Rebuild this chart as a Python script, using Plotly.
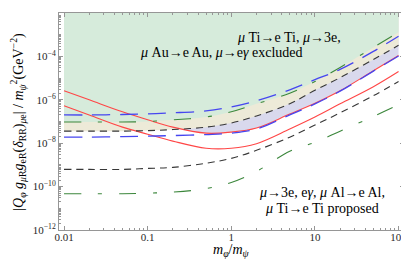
import plotly.graph_objects as go

# mass ratio m_phi / m_psi
ratio = [0.01, 0.02, 0.05, 0.1, 0.2, 0.5, 1, 2, 5, 10, 20, 50, 100]

# current bounds (upper set)
red_current = [2.6e-6, 1.0e-6, 2.8e-7, 1.2e-7, 5.5e-8, 2.9e-8, 3.25e-8, 5.0e-8, 2.2e-7, 6.9e-7, 2.6e-6, 2.2e-5, 1.1e-4]
black_current = [3.6e-8, 3.6e-8, 3.6e-8, 3.8e-8, 4.25e-8, 5.5e-8, 8.5e-8, 1.8e-7, 6.5e-7, 2.75e-6, 1.05e-5, 7.2e-5, 3.25e-4]
green_current = [9.5e-8, 9.5e-8, 9.5e-8, 1.0e-7, 1.2e-7, 1.6e-7, 2.8e-7, 6.5e-7, 2.0e-6, 6.9e-6, 3.1e-5, 2.6e-4, 1.3e-3]
blue_current = [2.0e-7, 2.0e-7, 2.1e-7, 2.25e-7, 2.5e-7, 3.1e-7, 4.7e-7, 9.0e-7, 2.9e-6, 8.5e-6, 2.5e-5, 1.7e-4, 8.5e-4]

# proposed bounds (lower set)
red_proposed = [5.3e-7, 2.0e-7, 5.5e-8, 2.6e-8, 1.25e-8, 5.85e-9, 5.85e-9, 9.5e-9, 4.5e-8, 1.6e-7, 6.5e-7, 4.0e-6, 2.0e-5]
black_proposed = [6.2e-10, 6.2e-10, 6.2e-10, 6.9e-10, 7.65e-10, 1.2e-9, 2.0e-9, 4.7e-9, 1.9e-8, 6.9e-8, 2.5e-7, 1.55e-6, 6.9e-6]
green_proposed = [4.7e-11, 4.7e-11, 4.7e-11, 5.0e-11, 5.55e-11, 8.1e-11, 1.55e-10, 5.0e-10, 4.25e-9, 1.1e-8, 3.6e-8, 1.7e-7, 5.85e-7]
blue_proposed = [1.9e-8, 1.9e-8, 2.0e-8, 2.1e-8, 2.25e-8, 2.5e-8, 2.9e-8, 4.5e-8, 2.0e-7, 6.5e-7, 2.5e-6, 2.1e-5, 1.05e-4]

Y_TOP = 1e-2
x_ticks = [0.01, 0.1, 1, 10, 100]
x_ticktext = ["0.01", "0.1", "1", "10", "100"]
y_ticks = [1e-2, 1e-4, 1e-6, 1e-8, 1e-10, 1e-12]
y_ticktext = ["0.01", "10<sup>\u22124</sup>", "10<sup>\u22126</sup>", "10<sup>\u22128</sup>",
              "10<sup>\u221210</sup>", "10<sup>\u221212</sup>"]

SERIF = "Liberation Serif, Times New Roman, serif"
FRAME = "rgb(150,150,150)"

fig = go.Figure()


def band(curve, color):
    fig.add_trace(go.Scatter(x=ratio, y=[Y_TOP] * len(ratio), mode="lines",
                             line=dict(width=0), hoverinfo="skip", showlegend=False))
    fig.add_trace(go.Scatter(x=ratio, y=curve, mode="lines",
                             line=dict(width=0, shape="spline", smoothing=1.0),
                             fill="tonexty", fillcolor=color, hoverinfo="skip", showlegend=False))


band(red_current, "rgb(217,217,237)")
band(black_current, "rgb(237,234,216)")
band(green_current, "rgb(214,235,219)")


def curve(y, color, dash, width=1.0):
    fig.add_trace(go.Scatter(x=ratio, y=y, mode="lines",
                             line=dict(color=color, dash=dash, width=width, shape="spline", smoothing=1.0),
                             showlegend=False))


RED = "rgb(255,70,70)"
BLACK = "rgb(55,55,55)"
GREEN = "rgb(60,135,60)"
BLUE = "rgb(70,70,240)"

curve(red_current, RED, "solid", 1.1)
curve(red_proposed, RED, "solid", 1.1)
curve(black_current, BLACK, "7px,5px", 1.1)
curve(black_proposed, BLACK, "7px,5px", 1.1)
curve(green_current, GREEN, "17px,17px,4px,17px", 1.1)
curve(green_proposed, GREEN, "17px,17px,4px,17px", 1.1)
curve(blue_current, BLUE, "18px,10px", 1.3)
curve(blue_proposed, BLUE, "18px,10px", 1.3)

x_minor = [k * 10.0 ** n for n in range(-2, 2) for k in range(2, 10)]
y_minor = [k * 10.0 ** n for n in range(-12, -2) for k in range(1, 10) if not (k == 1 and n % 2 == 0)]

# the page body adds an 8px margin, so the figure is 8px smaller on each axis
fig.update_layout(
    width=401, height=262,
    margin=dict(l=51, r=5, t=5, b=40),
    paper_bgcolor="white", plot_bgcolor="white",
    font=dict(family=SERIF, size=11, color="rgb(40,40,40)"),
    xaxis=dict(type="log", range=[-2.06, 2.065], tickmode="array", tickvals=x_ticks, ticktext=x_ticktext,
               ticks="inside", ticklen=4, tickcolor=FRAME, mirror="ticks", showline=True, linecolor=FRAME,
               linewidth=1, showgrid=False, zeroline=False, tickfont=dict(size=11), automargin=False,
               ticklabelstandoff=-3,
               minor=dict(tickmode="array", tickvals=x_minor, ticks="inside", ticklen=2, tickcolor=FRAME, showgrid=False)),
    yaxis=dict(type="log", range=[-12, -2], tickmode="array", tickvals=y_ticks, ticktext=y_ticktext,
               ticks="inside", ticklen=4, tickcolor=FRAME, mirror="ticks", showline=True, linecolor=FRAME,
               linewidth=1, showgrid=False, zeroline=False, tickfont=dict(size=11), automargin=False,
               minor=dict(tickmode="array", tickvals=y_minor, ticks="inside", ticklen=2, tickcolor=FRAME, showgrid=False)),
)

# axis titles
fig.add_annotation(xref="paper", yref="paper", x=0.5, y=-0.095, xanchor="center", yanchor="middle",
                   text="<i>m</i><sub><i>\u03c6</i></sub>/<i>m</i><sub><i>\u03c8</i></sub>",
                   showarrow=False, font=dict(family=SERIF, size=14, color="black"))
fig.add_annotation(xref="paper", yref="paper", x=-0.121, y=0.5, xanchor="center", yanchor="middle", textangle=-90,
                   text="|<i>Q</i><sub><i>\u03c6</i></sub> <i>g</i><sub><i>\u03bc</i>R</sub><i>g</i><sub>eR</sub>"
                        "(<i>\u03b4</i><sub>RR</sub>)<sub><i>\u03bc</i>e</sub>| / "
                        "<i>m</i><sub><i>\u03c8</i></sub><sup>2</sup>(GeV<sup>\u22122</sup>)",
                   showarrow=False, font=dict(family=SERIF, size=14, color="black"))

ann_font = dict(family=SERIF, size=14, color="black")
fig.add_annotation(xref="paper", yref="paper", x=0.51, y=0.889, xanchor="left", yanchor="middle",
                   text="<i>\u03bc</i> Ti\u2192e Ti, <i>\u03bc</i>\u21923e,", showarrow=False, font=ann_font)
fig.add_annotation(xref="paper", yref="paper", x=0.229, y=0.816, xanchor="left", yanchor="middle",
                   text="<i>\u03bc</i> Au\u2192e Au, <i>\u03bc</i>\u2192e<i>\u03b3</i> excluded", showarrow=False, font=ann_font)
fig.add_annotation(xref="paper", yref="paper", x=0.762, y=0.175, xanchor="center", yanchor="middle",
                   text="<i>\u03bc</i>\u21923e, e<i>\u03b3</i>, <i>\u03bc</i> Al\u2192e Al,", showarrow=False, font=ann_font)
fig.add_annotation(xref="paper", yref="paper", x=0.762, y=0.101, xanchor="center", yanchor="middle",
                   text="<i>\u03bc</i> Ti\u2192e Ti proposed", showarrow=False, font=ann_font)

fig.write_html("out.html")
